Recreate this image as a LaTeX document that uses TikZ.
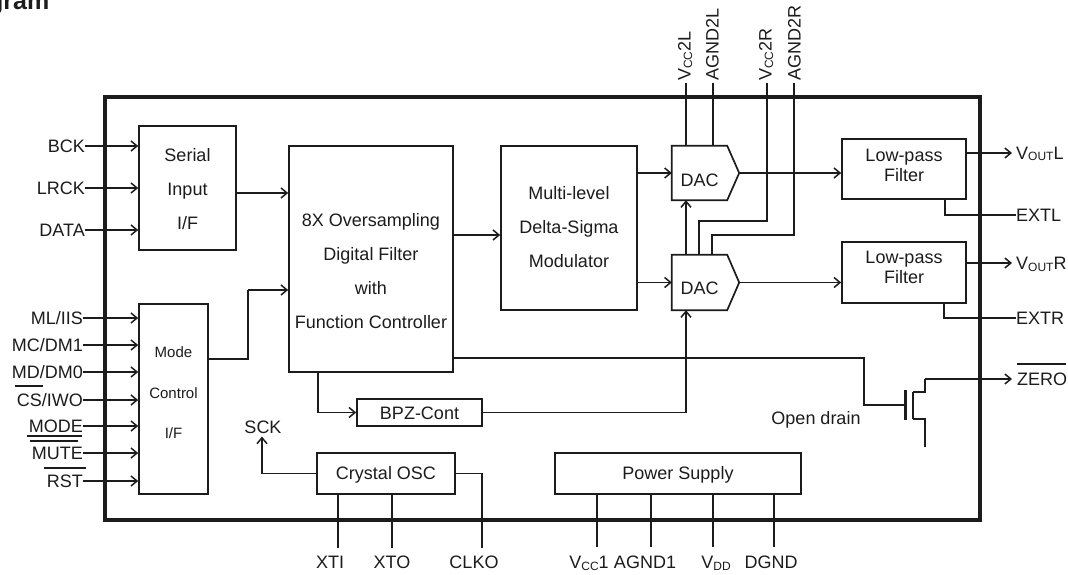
\documentclass[tikz,border=0pt]{standalone}
\usepackage{fontspec}
\setmainfont{Liberation Sans}
\usetikzlibrary{arrows.meta,calc}
\newcommand{\lowtxt}[1]{\raisebox{-1.5pt}{\fontsize{12}{13}\selectfont #1}}
\definecolor{ink}{HTML}{1C1C1C}
\tikzset{
  wire/.style={draw=ink,line width=1.6pt},
  arr/.style={wire,-{Straight Barb[length=6pt,width=10pt,line width=1.5pt]}},
  box/.style={draw=ink,line width=1.7pt,rectangle,inner sep=0pt},
  pinlabel/.style={inner sep=0pt,text=ink,font=\fontsize{18}{21}\selectfont,text height=13pt,text depth=0pt},
  toplabel/.style={pinlabel,rotate=90,anchor=west},
  ghost/.style={rectangle,inner sep=0pt,text=ink,align=center,font=\fontsize{18}{21}\selectfont},
  dacshape/.style={draw=ink,line width=1.7pt,line join=miter},
  bar/.style={draw=ink,line width=1.1pt}
}
\begin{document}
\begin{tikzpicture}[x=1pt,y=-1pt]
\useasboundingbox (0,0) rectangle (1068,575);
\fill[white] (0,0) rectangle (1068,575);
\node[anchor=base west,inner sep=0pt,font=\bfseries\fontsize{25}{27}\selectfont,text=ink] (title) at (-12,10) {gram};

% chip outline
\node[rectangle,draw=ink,line width=3.6pt,inner sep=0pt,minimum width=875pt,minimum height=423pt] (chip) at (542.5,308.5) {};

% blocks
\node[box,minimum width=97pt,minimum height=124pt] (serial) at (187.5,188) {};
\node[ghost,font=\fontsize{18}{34}\selectfont] (serialtxt) at (187.5,189) {Serial\\Input\\I/F};
\node[box,minimum width=164pt,minimum height=226pt] (filter) at (371,259) {};
\node[ghost,font=\fontsize{18}{34}\selectfont] (filtertxt) at (371,271) {8X Oversampling\\Digital Filter\\with\\Function Controller};
\node[box,minimum width=69pt,minimum height=190pt] (mode) at (173.5,399) {};
\node[ghost,font=\fontsize{15}{40.5}\selectfont] (modetxt) at (173.5,393) {Mode\\Control\\I/F};
\node[box,minimum width=136pt,minimum height=164pt] (modulator) at (569,228) {};
\node[ghost,font=\fontsize{18}{34}\selectfont] (modtxt) at (569,227) {Multi-level\\Delta-Sigma\\Modulator};
\node[box,minimum width=124pt,minimum height=60pt] (lpfl) at (904,169) {};
\node[ghost,font=\fontsize{18}{20}\selectfont] (lpfltxt) at (904,165) {Low-pass\\Filter};
\node[box,minimum width=124pt,minimum height=61pt] (lpfr) at (904,272.5) {};
\node[ghost,font=\fontsize{18}{20}\selectfont] (lpfrtxt) at (904,267) {Low-pass\\Filter};
\node[box,minimum width=125pt,minimum height=27pt] (bpz) at (419.5,412.5) {};
\node[ghost] (bpztxt) at (419.5,413.5) {BPZ-Cont};
\node[box,minimum width=138pt,minimum height=41pt] (osc) at (386,473.5) {};
\node[ghost] (osctxt) at (386,475) {Crystal OSC};
\node[box,minimum width=246pt,minimum height=41pt] (power) at (678,473.5) {};
\node[ghost] (powertxt) at (678,475) {Power Supply};

% DACs
\node[ghost,minimum width=67pt,minimum height=54pt] (dacl) at (705.5,173) {};
\node[ghost,minimum width=67pt,minimum height=55pt] (dacr) at (705.5,282.5) {};
\node[ghost,anchor=center] (dacltxt) at ($(dacl.center)+(-6,7)$) {DAC};
\node[ghost,anchor=center] (dacrtxt) at ($(dacr.center)+(-6,6)$) {DAC};
\foreach \d in {dacl,dacr}{
  \draw[dacshape] (\d.north west) -- ($(\d.north east)+(-12,0)$) -- (\d.east) -- ($(\d.south east)+(-12,0)$) -- (\d.south west) -- cycle;
}

% left pins
\foreach \n/\yy/\t in {bck/146/BCK,lrck/188/LRCK,data/230/DATA}{
  \node[pinlabel,anchor=east] (\n) at (85,\yy) {\t};
  \draw[arr] (\n.east) -- (\n.east -| serial.west);
}
\foreach \n/\yy/\t in {ml/318/{ML/IIS},mc/345/{MC/DM1},md/372/{MD/DM0},cs/400/{CS/IWO},modepin/426/{MODE},mute/453/{MUTE},rst/481/{RST}}{
  \node[pinlabel,anchor=east] (\n) at (83,\yy) {\t};
  \draw[arr] (\n.east) -- (\n.east -| mode.west);
}
\draw[bar] (15,386) -- (43,386);
\draw[bar] (27,436) -- (82,436);
\draw[bar] (30,441) -- (78,441);
\draw[bar] (44,468) -- (86,468);

% internal signal flow
\coordinate (serialout) at (236,193);
\draw[arr] (serialout) -- (serialout -| filter.west);
\coordinate (modeout) at (208,359);
\coordinate (filterin) at (248,290);
\draw[wire] (modeout) -| (filterin);
\draw[arr] (filterin) -- (filterin -| filter.west);
\coordinate (filterout) at (453,235);
\draw[arr] (filterout) -- (filterout -| modulator.west);
\draw[arr] (modulator.east |- dacl.east) -- (dacl.west);
\draw[arr] (modulator.east |- dacr.east) -- (dacr.west);
\draw[arr] (dacl.east) -- (dacl.east -| lpfl.west);
\draw[arr] (dacr.east) -- (dacr.east -| lpfr.west);
\coordinate (dacrtop) at (686,255);
\draw[arr] (dacrtop) -- (dacrtop |- dacl.south);
\coordinate (bpzin) at (318,372);
\draw[arr] (bpzin) |- (bpz.west);
\draw[arr] (bpz.east) -| (dacrtop |- dacr.south);

% power pins on top
\coordinate (vl) at (686,83);
\coordinate (al) at (713,83);
\coordinate (vr) at (767,83);
\coordinate (ar) at (794,83);
\node[toplabel] (vltxt) at (684,81) {V\lowtxt{CC}2L};
\node[toplabel] (altxt) at (712,81) {AGND2L};
\node[toplabel] (vrtxt) at (765,81) {V\lowtxt{CC}2R};
\node[toplabel] (artxt) at (794,81) {AGND2R};
\draw[wire] (vl) -- (vl |- dacl.north);
\draw[wire] (al) -- (al |- dacl.north);
\coordinate (vrin) at (699,221);
\coordinate (arin) at (712,235);
\draw[wire] (vr) |- (vrin) -- (vrin |- dacr.north);
\draw[wire] (ar) |- (arin) -- (arin |- dacr.north);

% right outputs
\coordinate (oendl) at (1012,153);
\coordinate (oendr) at (1012,263);
\draw[arr] (oendl -| lpfl.east) -- (oendl);
\draw[arr] (oendr -| lpfr.east) -- (oendr);
\node[pinlabel,anchor=west] (voutl) at (1016,153) {V\lowtxt{OUT}L};
\node[pinlabel,anchor=west] (voutr) at (1016,263) {V\lowtxt{OUT}R};
\node[pinlabel,anchor=west] (extl) at (1016,215) {EXTL};
\node[pinlabel,anchor=west] (extr) at (1016,318) {EXTR};
\coordinate (extltap) at (945,199);
\coordinate (extrtap) at (944,303);
\draw[wire] (extltap) |- (extl.west);
\draw[wire] (extrtap) |- (extr.west);

% open-drain transistor
\coordinate (fz) at (453,358);
\coordinate (gate) at (905,405);
\draw[wire] (fz) -| (864,405) -- (gate);
\draw[draw=ink,line width=3pt] (905,390) -- (905,420);
\draw[wire] (913,392) -- (913,419);
\node[pinlabel,anchor=west] (zero) at (1017,379) {ZERO};
\draw[bar] (1017,364) -- (1066,364);
\draw[wire] (913,392) -- (925,392) -- (925,379);
\draw[arr] (925,379) -- (1012,379);
\draw[wire] (913,419) -- (925,419) -- (925,447);
\node[ghost,anchor=center] (opendrain) at (816,420) {Open drain};

% SCK
\node[ghost] (sck) at (263,427) {SCK};
\draw[arr] (osc.west) -| ($(sck.south)+(-1,3)$);

% bottom pins
\coordinate (xtiw) at (338,494);
\coordinate (xtow) at (392,494);
\node[pinlabel] (xti) at (330,562) {XTI};
\node[pinlabel] (xto) at (392,562) {XTO};
\node[pinlabel] (clko) at (474,562) {CLKO};
\draw[wire] (xtiw) -- (xtiw |- 0,548);
\draw[wire] (xtow) -- (xtow |- 0,548);
\draw[wire] (osc.east) -| (482,548);

\node[pinlabel] (vcc1) at (589,562) {V\lowtxt{CC}1};
\node[pinlabel] (agnd1) at (645,562) {AGND1};
\node[pinlabel] (vdd) at (716,562) {V\lowtxt{DD}};
\node[pinlabel] (dgnd) at (771,562) {DGND};
\coordinate (pw1) at (597,494);
\coordinate (pw2) at (651,494);
\coordinate (pw3) at (713,494);
\coordinate (pw4) at (774,494);
\foreach \p in {pw1,pw2,pw3,pw4}{
  \draw[wire] (\p) -- (\p |- 0,547);
}
\end{tikzpicture}
\end{document}
